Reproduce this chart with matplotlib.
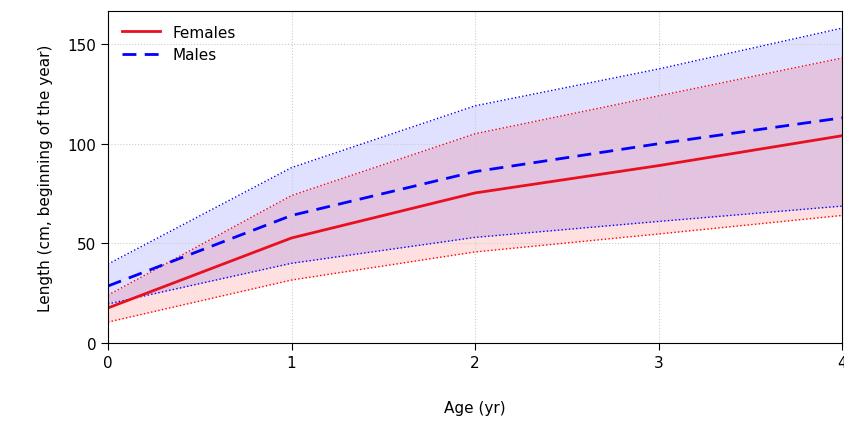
import matplotlib
matplotlib.use("Agg")
import matplotlib.pyplot as plt

age = [0, 1, 2, 3, 4]
f_mean = [17.6, 52.7, 75.3, 89, 104]
f_up = [24, 74, 105, 124, 143]
f_lo = [10.5, 31.6, 45.7, 54.7, 64]
m_mean = [28.6, 64, 86, 100, 113]
m_up = [39.6, 88, 119, 137.5, 158]
m_lo = [19.6, 40, 53, 61, 68.7]

fig = plt.figure(figsize=(8.44, 4.35), dpi=100)
ax = fig.add_axes([108/844, 1-344/435, 734/844, 332/435])
ax.fill_between(age, m_lo, m_up, color=(0, 0, 1, 0.12), lw=0)
ax.fill_between(age, f_lo, f_up, color=(1, 0, 0, 0.12), lw=0)
for y in (m_lo, m_up):
    ax.plot(age, y, color="blue", ls=":", lw=1)
for y in (f_lo, f_up):
    ax.plot(age, y, color="red", ls=":", lw=1)
ax.plot(age, f_mean, color="#e8101e", lw=2, label="Females")
ax.plot(age, m_mean, color="blue", lw=2, ls=(0, (5, 3)), label="Males")
ax.set_xlim(0, 4)
ax.set_ylim(0, 166.6)
ax.set_xticks(age)
ax.set_yticks([0, 50, 100, 150])
ax.grid(color="#cccccc", ls=":", lw=0.8)
ax.tick_params(labelsize=11, direction="out", length=5)
ax.set_xlabel("Age (yr)", fontsize=11, labelpad=22)
ax.set_ylabel("Length (cm, beginning of the year)", fontsize=11, labelpad=10)
ax.legend(loc="upper left", frameon=False, fontsize=11, handlelength=2.5)
fig.savefig("out.png")
